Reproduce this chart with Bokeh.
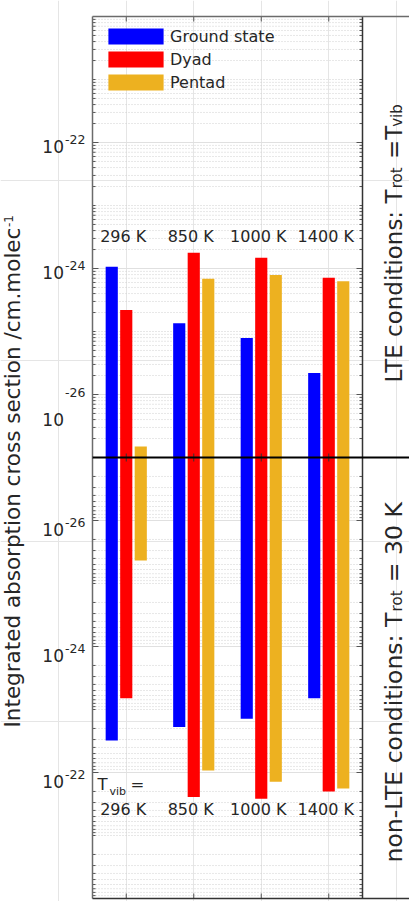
import math
from bokeh.plotting import figure
from bokeh.models import Range1d, LogScale, Label, Legend, LegendItem
from bokeh.core.properties import value
from bokeh.embed import file_html
from bokeh.resources import INLINE

# ---------------------------------------------------------------- data
temperatures = ["296 K", "850 K", "1000 K", "1400 K"]
group_x = [1, 2, 3, 4]
series_names = ["Ground state", "Dyad", "Pentad"]
series_colors = ["#0000FF", "#FF0000", "#EDB120"]

# LTE conditions (T_rot = T_vib), integrated cross section in cm/molecule
lte_ground = [1.07e-24, 1.35e-25, 7.9e-26, 2.2e-26]
lte_dyad = [2.2e-25, 1.78e-24, 1.48e-24, 7.1e-25]
lte_pentad = [1.5e-27, 6.9e-25, 7.9e-25, 6.3e-25]

# non-LTE conditions (T_rot = 30 K)
nlte_ground = [3.1e-23, 1.9e-23, 1.4e-23, 6.6e-24]
nlte_dyad = [6.6e-24, 2.45e-22, 2.6e-22, 2.0e-22]
nlte_pentad = [4.3e-26, 9.3e-23, 1.4e-22, 1.8e-22]

labelled_decades = [1e-26, 1e-24, 1e-22]
tick_exponents = ["-26", "-24", "-22"]

# ---------------------------------------------------------------- geometry / style
W, H = 409, 901
BASE = 1e-27          # shared baseline of both halves (the black centre line)
TOP = 1e-20           # outer end of each half
MID_Y = 457           # canvas row of the centre line
PX_DECADE = 63        # pixels per decade on both log axes
PX_UNIT = 67.5        # pixels per temperature group
PLOT_LEFT = 92        # canvas column of x = 0.5
X_LO, X_HI = 0.5, 4.5 # plotting box in x
FONT = "DejaVu Sans"
INK = "#262626"
BAR_W = 0.18
OFFSETS = [-0.215, 0.0, 0.215]

# advance widths of DejaVu Sans (em) for composing multi-part labels
EM = {" ": .318, "-": .361, ".": .318, "/": .337, ":": .337, "=": .838,
      "0": .636, "1": .636, "2": .636, "3": .636, "4": .636, "5": .636,
      "6": .636, "7": .636, "8": .636, "9": .636,
      "C": .698, "E": .632, "I": .295, "K": .656, "L": .557, "T": .611,
      "a": .613, "b": .635, "c": .550, "d": .635, "e": .615, "g": .635,
      "i": .278, "l": .278, "m": .974, "n": .634, "o": .612, "p": .635,
      "r": .411, "s": .521, "t": .392, "u": .634, "v": .592, "y": .592}


def text_len(s, size):
    return sum(EM.get(ch, 0.6) for ch in s) * size


x_start = X_LO - PLOT_LEFT / PX_UNIT
x_end = x_start + W / PX_UNIT
lg_base = math.log10(BASE)
lte_range = Range1d(10 ** (lg_base - (H - MID_Y) / PX_DECADE), 10 ** (lg_base + MID_Y / PX_DECADE))
nlte_range = Range1d(10 ** (lg_base + (H - MID_Y) / PX_DECADE), 10 ** (lg_base - MID_Y / PX_DECADE))

p = figure(width=W, height=H, output_backend="svg", toolbar_location=None,
           x_range=Range1d(x_start, x_end), y_range=Range1d(0, 1),
           x_axis_location=None, y_axis_location=None,
           min_border=0, min_border_left=0, min_border_right=0,
           min_border_top=0, min_border_bottom=0,
           outline_line_color=None, background_fill_color="white",
           border_fill_color="white")
p.extra_y_ranges = {"lte": lte_range, "nlte": nlte_range}
p.extra_y_scales = {"lte": LogScale(), "nlte": LogScale()}

# ---------------------------------------------------------------- grid lines
minor_values = []
for k in range(-27, -20):
    for m in range(1, 10):
        v = m * 10.0 ** k
        if k == -27 and m == 1:
            continue
        if any(abs(v / d - 1) < 1e-6 for d in labelled_decades):
            continue
        minor_values.append(v)

for name in ("lte", "nlte"):
    p.segment(x0=X_LO, x1=X_HI, y0=minor_values, y1=minor_values, y_range_name=name,
              line_color="#cfcfcf", line_width=1, line_dash="1 2")
    p.segment(x0=X_LO, x1=X_HI, y0=labelled_decades, y1=labelled_decades,
              y_range_name=name, line_color="#e0e0e0", line_width=1)

# ---------------------------------------------------------------- bars
lte_sets = [lte_ground, lte_dyad, lte_pentad]
nlte_sets = [nlte_ground, nlte_dyad, nlte_pentad]
legend_renderers = []
for k in range(3):
    xs = [g + OFFSETS[k] for g in group_x]
    r = p.vbar(x=xs, width=BAR_W, bottom=BASE, top=lte_sets[k], y_range_name="lte",
               fill_color=series_colors[k], line_color=None)
    p.vbar(x=xs, width=BAR_W, bottom=BASE, top=nlte_sets[k], y_range_name="nlte",
           fill_color=series_colors[k], line_color=None)
    legend_renderers.append(r)

# ---------------------------------------------------------------- tick marks
TICK = "#555555"
for name, sign in (("lte", 1), ("nlte", -1)):
    for xe, ang in ((X_LO, 0.0), (X_HI, math.pi)):
        p.ray(x=xe, y=labelled_decades, length=6, length_units="screen", angle=ang,
              y_range_name=name, line_color=TICK, line_width=1)
        p.ray(x=xe, y=minor_values, length=3, length_units="screen", angle=ang,
              y_range_name=name, line_color=TICK, line_width=1)
    # ticks hanging from the outer edge and crossing the centre line
    p.ray(x=group_x, y=TOP, length=5, length_units="screen", angle=-sign * math.pi / 2,
          y_range_name=name, line_color=TICK, line_width=1)
    p.ray(x=group_x, y=BASE, length=4, length_units="screen", angle=sign * math.pi / 2,
          y_range_name=name, line_color="#333333", line_width=1)

# ---------------------------------------------------------------- box lines
for name in ("lte", "nlte"):
    p.segment(x0=X_LO, x1=X_LO, y0=TOP, y1=BASE, y_range_name=name,
              line_color="#6b6b6b", line_width=1.5)
    p.segment(x0=X_HI, x1=X_HI, y0=TOP, y1=BASE, y_range_name=name,
              line_color="#333333", line_width=1.5)
p.segment(x0=X_LO, x1=x_end, y0=TOP, y1=TOP, y_range_name="lte",
          line_color="#6b6b6b", line_width=1.5)
p.segment(x0=X_LO, x1=x_end, y0=TOP, y1=TOP, y_range_name="nlte",
          line_color="#333333", line_width=1.5)
p.segment(x0=X_LO, x1=x_end, y0=BASE, y1=BASE, y_range_name="lte",
          line_color="black", line_width=2)

# ---------------------------------------------------------------- temperature labels
p.text(x=group_x, y=3.2e-24, text=temperatures, y_range_name="lte", x_offset=-3,
       text_align="center", text_baseline="middle", text_font=value(FONT),
       text_font_size="16px", text_color=INK)
p.text(x=group_x, y=3.9e-22, text=temperatures, y_range_name="nlte", x_offset=-3,
       text_align="center", text_baseline="middle", text_font=value(FONT),
       text_font_size="16px", text_color=INK)

# ---------------------------------------------------------------- legend
legend = Legend(items=[LegendItem(label=series_names[k], renderers=[legend_renderers[k]])
                       for k in range(3)],
                location=(101, H - 26 - 66), glyph_width=69, glyph_height=20,
                label_height=20, spacing=3, padding=0, margin=0, label_standoff=0,
                background_fill_alpha=0, border_line_color=None,
                label_text_font=FONT, label_text_font_size="16px", label_text_color=INK)
p.add_layout(legend)


# ---------------------------------------------------------------- texts
def put(text, x_img, y_img, size, angle=0.0, align="left"):
    p.add_layout(Label(x=x_img, y=H - y_img, x_units="screen", y_units="screen",
                       text=text, angle=angle, text_align=align, text_baseline="middle",
                       text_font=FONT, text_font_size=f"{size}px", text_color=INK))


def rotated_parts(parts, x_mid, y_start):
    """Upward-reading text made of (text, size, sideways shift, gap before) pieces."""
    y = y_start
    for text, size, shift, gap in parts:
        y -= gap
        put(text, x_mid + shift, y, size, angle=math.pi / 2)
        y -= text_len(text, size)


# y axis tick labels (10 with a raised exponent)
for name, drop, sup_drop in (("lte", 3.5, -3.5), ("nlte", 9, 2)):
    for d, ex in zip(labelled_decades, tick_exponents):
        base_drop, s_drop = drop, sup_drop
        if name == "lte" and ex == "-26":
            base_drop, s_drop = 24.5, -2.5
        p.add_layout(Label(x=63.5, x_units="screen", y=d, y_units="data",
                           y_range_name=name, y_offset=-base_drop, text="10",
                           text_align="right", text_baseline="middle",
                           text_font=FONT, text_font_size="17px", text_color=INK))
        p.add_layout(Label(x=64.5, x_units="screen", y=d, y_units="data",
                           y_range_name=name, y_offset=-s_drop, text=ex,
                           text_align="left", text_baseline="middle",
                           text_font=FONT, text_font_size="12.5px", text_color=INK))

# y axis title
rotated_parts([("Integrated absorption cross section /cm.molec", 21.5, 0, 0),
               ("-1", 12, -4, 0)], 12, 727)

# side panel titles
rotated_parts([("LTE conditions: T", 23, 0, 0), ("rot", 15, 3, -2),
               ("=T", 23, 0, 8), ("vib", 15, 3, -1)], 393.5, 382)
rotated_parts([("non-LTE conditions: T", 23.5, 0, 0), ("rot", 15, 3, -2),
               ("= 30 K", 23.5, 0, 8)], 393.5, 862)

# T_vib caption in the lower half
put("T", 97, 784, 16.5)
put("vib", 109, 791, 11)
put("=", 130, 784, 16.5)

open("out.html", "w").write(file_html(p, INLINE))
